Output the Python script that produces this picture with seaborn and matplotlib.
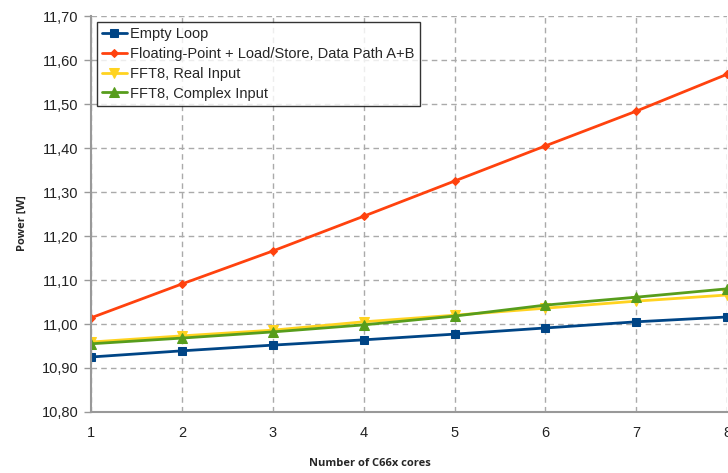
import pandas as pd
import seaborn as sns
import matplotlib.pyplot as plt
import matplotlib.ticker as ticker

# Data
cores = [1, 2, 3, 4, 5, 6, 7, 8]
empty_loop = [10.925, 10.939, 10.952, 10.964, 10.977, 10.991, 11.005, 11.016]
fp_load_store = [11.014, 11.091, 11.166, 11.245, 11.325, 11.405, 11.484, 11.568]
fft8_real = [10.959, 10.973, 10.986, 11.005, 11.020, 11.036, 11.052, 11.066]
fft8_complex = [10.955, 10.968, 10.982, 10.998, 11.018, 11.043, 11.061, 11.080]

series = [
    ('Empty Loop', empty_loop, '#004586', 's', 5.5),
    ('Floating-Point + Load/Store, Data Path A+B', fp_load_store, '#ff420e', 'D', 4.5),
    ('FFT8, Real Input', fft8_real, '#ffd320', 'v', 6.5),
    ('FFT8, Complex Input', fft8_complex, '#579d1c', '^', 6.5),
]

sns.set_style('white')
plt.rcParams['font.family'] = ['Liberation Sans', 'DejaVu Sans']

fig = plt.figure(figsize=(7.28, 4.73), dpi=100)
ax = fig.add_axes([0.125, 0.129, 0.874, 0.837])

for name, vals, color, marker, ms in series:
    df = pd.DataFrame({'cores': cores, 'power': vals})
    sns.lineplot(data=df, x='cores', y='power', ax=ax, color=color, marker=marker,
                 markersize=ms, markeredgecolor=color, linewidth=2, label=name)

ax.set_xlim(1, 8)
ax.set_ylim(10.80, 11.70)
ax.set_xticks(cores)
ax.yaxis.set_major_locator(ticker.MultipleLocator(0.1))
ax.yaxis.set_major_formatter(ticker.FuncFormatter(lambda v, pos: '{:.2f}'.format(v).replace('.', ',')))
ax.tick_params(axis='both', labelsize=10.5, colors='#222222')
ax.tick_params(axis='y', length=5, width=1, color='#999999', direction='out', left=True, pad=4)
ax.tick_params(axis='x', length=0, pad=10)

ax.grid(True, linestyle=(0, (4, 3)), color='#aaaaaa', linewidth=1)
for side in ['top', 'right']:
    ax.spines[side].set_visible(False)
for side in ['left', 'bottom']:
    ax.spines[side].set_color('#999999')
    ax.spines[side].set_linewidth(1.5)

ax.set_xlabel('Number of C66x cores', fontsize=8, fontweight='bold', family='Open Sans')
ax.set_ylabel('Power [W]', fontsize=8, fontweight='bold', family='Open Sans')
ax.xaxis.set_label_coords(0.439, -0.116)
ax.yaxis.set_label_coords(-0.100, 0.477)

leg = ax.legend(loc='upper left', fontsize=10.5, frameon=True, fancybox=False,
                edgecolor='black', borderaxespad=0.4, handlelength=1.7,
                handletextpad=0.25, labelspacing=0.4, borderpad=0.35)
leg.get_frame().set_linewidth(1)

plt.savefig('out.png', dpi=100)
